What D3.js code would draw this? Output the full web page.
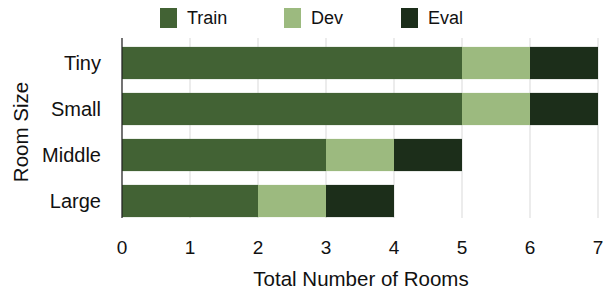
<!DOCTYPE html>
<html>
<head>
<meta charset="utf-8">
<script src="https://cdn.jsdelivr.net/npm/d3@7"></script>
<style>
  html, body { margin: 0; padding: 0; background: #fff; }
  svg text { font-family: "Liberation Sans", Arial, sans-serif; fill: #111; }
</style>
</head>
<body>
<svg id="chart" width="606" height="291"></svg>
<script>
// room sizes, top to bottom
const categories = ["Tiny", "Small", "Middle", "Large"];
const seriesNames = ["Train", "Dev", "Eval"];
const train = [5, 5, 3, 2];
const dev = [1, 1, 1, 1];
const evalSet = [1, 1, 1, 1];
const xTicks = [0, 1, 2, 3, 4, 5, 6, 7];

const colors = { Train: "#426234", Dev: "#9cba7f", Eval: "#1c2e1a" };

const rows = categories.map((c, i) => ({ cat: c, Train: train[i], Dev: dev[i], Eval: evalSet[i] }));
const stacked = d3.stack().keys(seriesNames)(rows);

const svg = d3.select("#chart");
const plotTop = 38, plotBottom = 218;

const x = d3.scaleLinear().domain([0, 7]).range([122, 598]);
const y = d3.scaleBand().domain(categories).range([40, 224])
    .paddingInner(0.3).paddingOuter(0.15);

// vertical gridlines
svg.append("g").selectAll("line").data(xTicks).join("line")
    .attr("x1", d => x(d)).attr("x2", d => x(d))
    .attr("y1", plotTop).attr("y2", plotBottom)
    .attr("stroke", "#d9d9d9").attr("stroke-width", 1);

// bars
svg.append("g").selectAll("g").data(stacked).join("g")
    .attr("fill", d => colors[d.key])
    .selectAll("rect").data(d => d).join("rect")
    .attr("x", d => x(d[0]))
    .attr("width", d => x(d[1]) - x(d[0]))
    .attr("y", d => y(d.data.cat))
    .attr("height", y.bandwidth());

// y axis line
svg.append("line")
    .attr("x1", x(0)).attr("x2", x(0))
    .attr("y1", plotTop).attr("y2", plotBottom)
    .attr("stroke", "#222").attr("stroke-width", 1.2);

// x tick labels
svg.append("g").selectAll("text").data(xTicks).join("text")
    .attr("x", d => x(d)).attr("y", 254)
    .attr("text-anchor", "middle")
    .style("font-size", "19px")
    .text(d => d);

// y category labels
svg.append("g").selectAll("text").data(categories).join("text")
    .attr("x", 101).attr("y", d => y(d) + y.bandwidth() / 2)
    .attr("dy", "0.35em")
    .attr("text-anchor", "end")
    .style("font-size", "20px")
    .text(d => d);

// axis titles
svg.append("text")
    .attr("x", 361).attr("y", 286)
    .attr("text-anchor", "middle")
    .style("font-size", "20.5px")
    .text("Total Number of Rooms");

svg.append("text")
    .attr("transform", "translate(28,132) rotate(-90)")
    .attr("text-anchor", "middle")
    .style("font-size", "20.5px")
    .text("Room Size");

// legend
const legendX = [160, 284, 401];
const legend = svg.append("g").selectAll("g").data(seriesNames).join("g")
    .attr("transform", (d, i) => `translate(${legendX[i]},8)`);
legend.append("rect")
    .attr("width", 17).attr("height", 20)
    .attr("fill", d => colors[d]);
legend.append("text")
    .attr("x", 27).attr("y", 10).attr("dy", "0.35em")
    .style("font-size", "18px")
    .text(d => d);
</script>
</body>
</html>
